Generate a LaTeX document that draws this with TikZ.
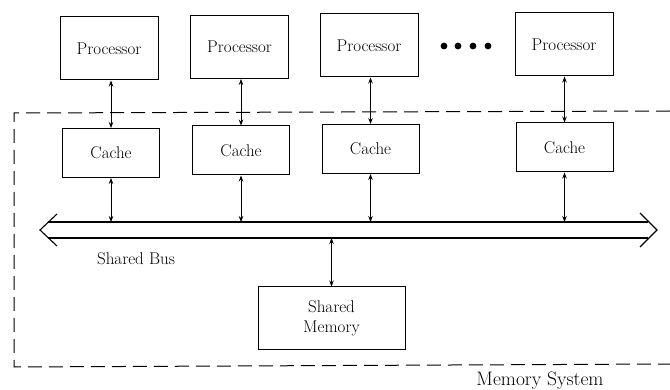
\documentclass[tikz,border=0pt]{standalone}
\usepackage{fontspec}
\usetikzlibrary{arrows.meta}
\begin{document}
\begin{tikzpicture}[x=1pt,y=-1pt,
  box/.style={draw,line width=1pt,inner sep=0pt,font=\addfontfeatures{FakeBold=0.6}\fontsize{17}{20}\selectfont,align=center},
  proc/.style={box,minimum width=98pt,minimum height=63pt},
  cachebox/.style={box,minimum width=97pt,minimum height=49pt},
  link/.style={line width=0.8pt,{Stealth[length=6pt,width=4.5pt]}-{Stealth[length=6pt,width=4.5pt]}},
  busline/.style={line width=1.1pt},
  sysline/.style={line width=1pt,dash pattern=on 14pt off 7pt},
  lbl/.style={font=\addfontfeatures{FakeBold=0.6}\fontsize{17}{20}\selectfont}]
\useasboundingbox (0,0) rectangle (670,390);
% memory system boundary
\draw[sysline] (670,111) -- (14,113) -- (14,367) -- (670,364);
% processors
\node[proc] (p1) at (109,48.5) {Processor};
\node[proc] (p2) at (239.5,47) {Processor};
\node[proc] (p3) at (369,45.5) {Processor};
\node[proc] (p4) at (564,44.5) {Processor};
% dots
\foreach \x in {444,458,473,488} \fill (\x,46) circle (3.4pt);
% caches
\node[cachebox] (c1) at (111,153) {Cache};
\node[cachebox] (c2) at (241,150.5) {Cache};
\node[cachebox] (c3) at (370.5,149) {Cache};
\node[cachebox] (c4) at (564.5,147.5) {Cache};
% shared bus
\coordinate (bustopL) at (48,222);
\coordinate (bustopR) at (648,222);
\coordinate (busbotL) at (48,238);
\coordinate (busbotR) at (648,238);
\coordinate (tipL) at (40,230);
\coordinate (tipR) at (657,230);
\draw[busline] (bustopL) -- (bustopR);
\draw[busline] (busbotL) -- (busbotR);
\draw[busline] (57,214) -- (tipL) -- (57,246);
\draw[busline] (640,213) -- (tipR) -- (640,247);
\node[lbl] (buslbl) at (136,259) {Shared Bus};
% shared memory
\node[box,minimum width=147pt,minimum height=63pt] (mem) at (331.5,318.5) {Shared\\Memory};
\node[font=\addfontfeatures{FakeBold=0.6}\fontsize{19.5}{22}\selectfont] (msys) at (540,381) {Memory System};
% links processor-cache
\foreach \i in {1,2,3,4} \draw[link] (p\i.south -| c\i.north) -- (c\i.north);
% links cache-bus
\foreach \i in {1,2,3,4} \draw[link] (c\i.south) -- (c\i.south |- bustopL);
% link bus-memory
\draw[link] (mem.north |- busbotL) -- (mem.north);
\end{tikzpicture}
\end{document}
